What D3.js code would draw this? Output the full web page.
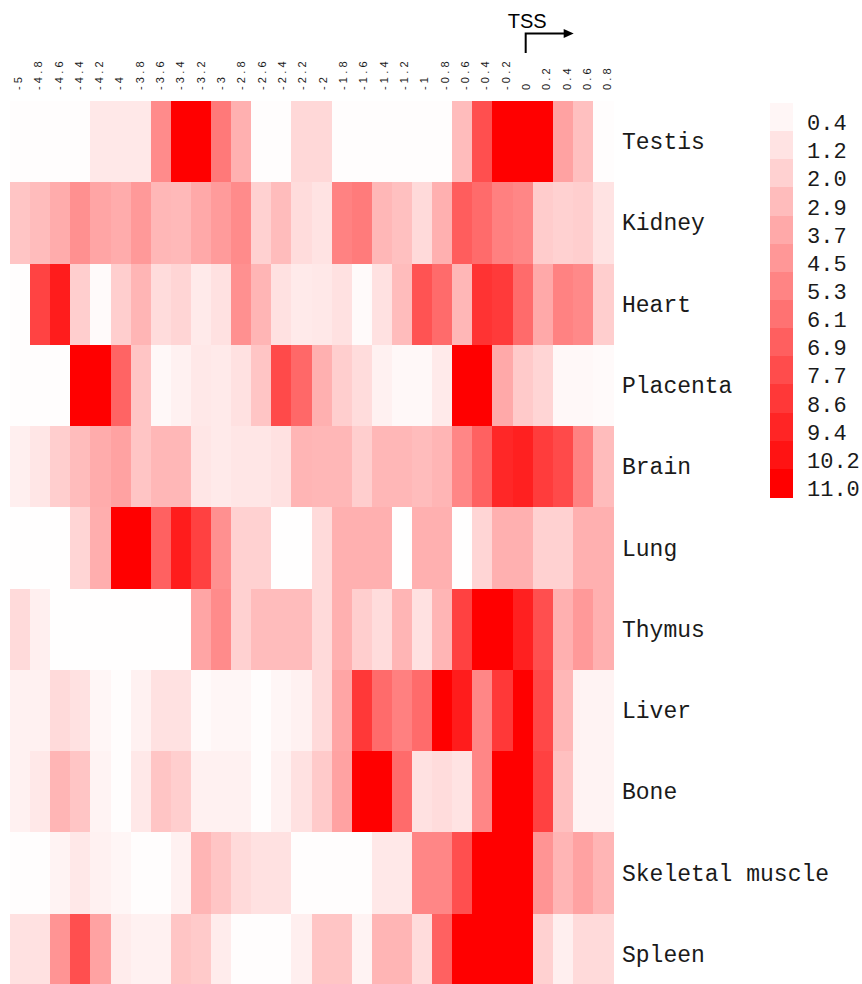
<!DOCTYPE html>
<html>
<head>
<meta charset="utf-8">
<script src="https://cdn.jsdelivr.net/npm/d3@7/dist/d3.min.js"></script>
<style>
  html, body { margin: 0; padding: 0; background: #ffffff; }
  svg { display: block; }
</style>
</head>
<body>
<svg id="chart" width="862" height="984"></svg>
<script>
// Distance from the transcription start site (kb), one column each
const positions = ["-5","-4.8","-4.6","-4.4","-4.2","-4","-3.8","-3.6","-3.4","-3.2",
  "-3","-2.8","-2.6","-2.4","-2.2","-2","-1.8","-1.6","-1.4","-1.2",
  "-1","-0.8","-0.6","-0.4","-0.2","0","0.2","0.4","0.6","0.8"];

const tissues = ["Testis","Kidney","Heart","Placenta","Brain","Lung","Thymus",
  "Liver","Bone","Skeletal muscle","Spleen"];

// Signal per position, one array per tissue
const testis   = [0.1,0.1,0.1,0.1,1.0,1.0,1.0,5.0,11,11,5.8,3.4,0.1,0.1,1.7,1.7,0.1,0.1,0.1,0.1,0.1,0.1,2.9,7.6,11,11,11,4.0,2.7,0.1];
const kidney   = [2.5,2.9,3.6,4.8,3.9,3.6,4.4,3.1,3.0,3.7,4.3,5.0,2.0,2.9,1.5,1.2,5.4,5.7,3.1,2.7,1.6,3.4,7.0,6.4,5.5,5.2,2.2,2.0,2.1,1.2];
const heart    = [0.1,8.1,9.8,2.1,0.2,2.1,3.2,1.5,1.8,0.9,1.3,4.8,3.2,1.3,0.9,1.0,1.3,0.2,1.3,2.9,7.4,6.4,3.1,8.8,8.5,6.4,3.7,5.4,5.1,2.1];
const placenta = [0.1,0.1,0.1,11,11,6.7,2.5,0.3,0.6,1.0,0.9,1.3,2.5,7.8,6.5,3.4,2.1,1.5,0.6,0.3,0.3,0.9,11,11,3.7,2.3,1.8,0.3,0.3,0.2];
const brain    = [0.7,1.1,2.1,2.9,3.6,4.0,2.5,3.1,3.1,1.1,0.9,1.1,1.1,1.3,3.2,3.1,3.1,2.1,3.1,3.1,2.9,3.2,5.2,6.8,9.3,9.6,8.4,7.8,5.4,2.9];
const lung     = [0.05,0.05,0.05,1.8,3.5,11,11,6.8,9.8,8.2,4.8,2.0,2.0,0.05,0.05,1.6,3.4,3.4,3.4,0.05,3.4,3.4,0.05,1.8,3.4,3.4,2.0,2.0,3.4,3.4];
const thymus   = [1.6,0.7,0.05,0.05,0.05,0.05,0.05,0.05,0.05,3.9,5.0,2.0,2.9,2.9,2.9,1.6,3.4,2.1,1.5,3.2,1.3,3.2,8.2,11,11,9.6,7.6,3.4,4.4,3.4];
const liver    = [0.6,0.6,1.6,1.3,0.4,0.1,0.6,1.3,1.3,0.2,0.4,0.4,0.1,0.4,0.6,1.6,3.9,8.6,6.4,5.5,6.4,11,9.8,5.2,8.6,11,7.9,3.1,0.5,0.5];
const bone     = [0.6,1.0,3.2,2.5,0.5,0.1,1.0,2.5,2.1,0.6,0.6,0.6,0.1,0.6,1.3,2.3,4.0,11,11,6.4,1.3,1.5,1.2,5.2,11,11,8.2,2.7,0.5,0.5];
const skeletal = [0.1,0.1,0.5,1.0,0.6,0.4,0.1,0.1,0.6,3.2,2.5,1.6,1.3,1.3,0.1,0.1,0.1,0.1,1.0,1.0,5.2,5.2,7.6,11,11,11,4.6,3.2,4.0,3.2];
const spleen   = [1.3,1.3,4.6,7.6,4.0,0.8,0.6,0.6,2.5,2.3,0.8,0.1,0.1,0.1,0.7,2.5,2.5,0.5,3.2,3.2,1.5,6.8,11,11,11,11,2.0,0.7,1.6,1.6];

const rows = [testis, kidney, heart, placenta, brain, lung, thymus, liver, bone, skeletal, spleen];

// Colour key steps
const legendValues = [0.4,1.2,2.0,2.9,3.7,4.5,5.3,6.1,6.9,7.7,8.6,9.4,10.2,11.0];

const svg = d3.select("#chart");

const x = d3.scaleBand().domain(positions).range([10, 613]).padding(0);
const y = d3.scaleBand().domain(tissues).range([101, 995]).padding(0);
const color = d3.scaleLinear().domain([0, 11]).range(["#ffffff", "#ff0000"]).clamp(true);

// Heatmap cells
const cells = [];
tissues.forEach((t, r) => positions.forEach((p, c) => cells.push({ tissue: t, pos: p, value: rows[r][c] })));

svg.append("g")
  .selectAll("rect")
  .data(cells)
  .join("rect")
  .attr("x", d => x(d.pos))
  .attr("y", d => y(d.tissue))
  .attr("width", x.bandwidth() + 0.6)
  .attr("height", y.bandwidth() + 0.6)
  .attr("fill", d => color(d.value))
  .attr("shape-rendering", "crispEdges");

// Column labels, rotated to read bottom-to-top, along the top
const labelScale = d3.scalePoint().domain(positions).range([17.5, 607]);
const topAxis = svg.append("g")
  .attr("transform", "translate(0,90)")
  .call(d3.axisTop(labelScale).tickSize(0).tickPadding(0));
topAxis.select(".domain").remove();
topAxis.selectAll("text")
  .attr("transform", "rotate(-90)")
  .attr("x", 0)
  .attr("y", 0)
  .attr("dy", "0.35em")
  .style("text-anchor", "start")
  .style("font-family", "'Liberation Sans', Arial, sans-serif")
  .style("font-size", "11px")
  .style("letter-spacing", "3.2px")
  .attr("fill", "#1a1a1a");

// Row labels on the right
svg.append("g")
  .selectAll("text")
  .data(tissues)
  .join("text")
  .attr("x", 622)
  .attr("y", d => y(d) + y.bandwidth() / 2)
  .attr("dy", "0.33em")
  .attr("fill", "#1a1a1a")
  .style("font-family", "'Liberation Mono', 'Courier New', monospace")
  .style("font-size", "23px")
  .text(d => d);

// TSS marker with bent arrow above the 0 position
const tssX = labelScale("0");
const tss = svg.append("g");
tss.append("text")
  .attr("x", tssX - 18)
  .attr("y", 28)
  .style("font-family", "'Liberation Sans', Arial, sans-serif")
  .style("font-size", "20px")
  .attr("fill", "#000")
  .text("TSS");
tss.append("path")
  .attr("d", `M${tssX},53 V33.5 H${tssX + 40}`)
  .attr("fill", "none")
  .attr("stroke", "#000")
  .attr("stroke-width", 2);
tss.append("path")
  .attr("d", `M${tssX + 38},29 L${tssX + 48},33.5 L${tssX + 38},38 Z`)
  .attr("fill", "#000");

// Colour key
const ly = d3.scaleBand().domain(legendValues.map(String)).range([103, 497]).padding(0);
const legend = svg.append("g");
legend.selectAll("rect")
  .data(legendValues)
  .join("rect")
  .attr("x", 770)
  .attr("y", d => ly(String(d)))
  .attr("width", 23)
  .attr("height", ly.bandwidth() + 0.6)
  .attr("fill", d => color(d))
  .attr("shape-rendering", "crispEdges");
legend.selectAll("text")
  .data(legendValues)
  .join("text")
  .attr("x", 807)
  .attr("y", d => ly(String(d)) + ly.bandwidth() - 1)
  .attr("fill", "#1a1a1a")
  .style("font-family", "'Liberation Mono', 'Courier New', monospace")
  .style("font-size", "22px")
  .text(d => d.toFixed(1));
</script>
</body>
</html>
